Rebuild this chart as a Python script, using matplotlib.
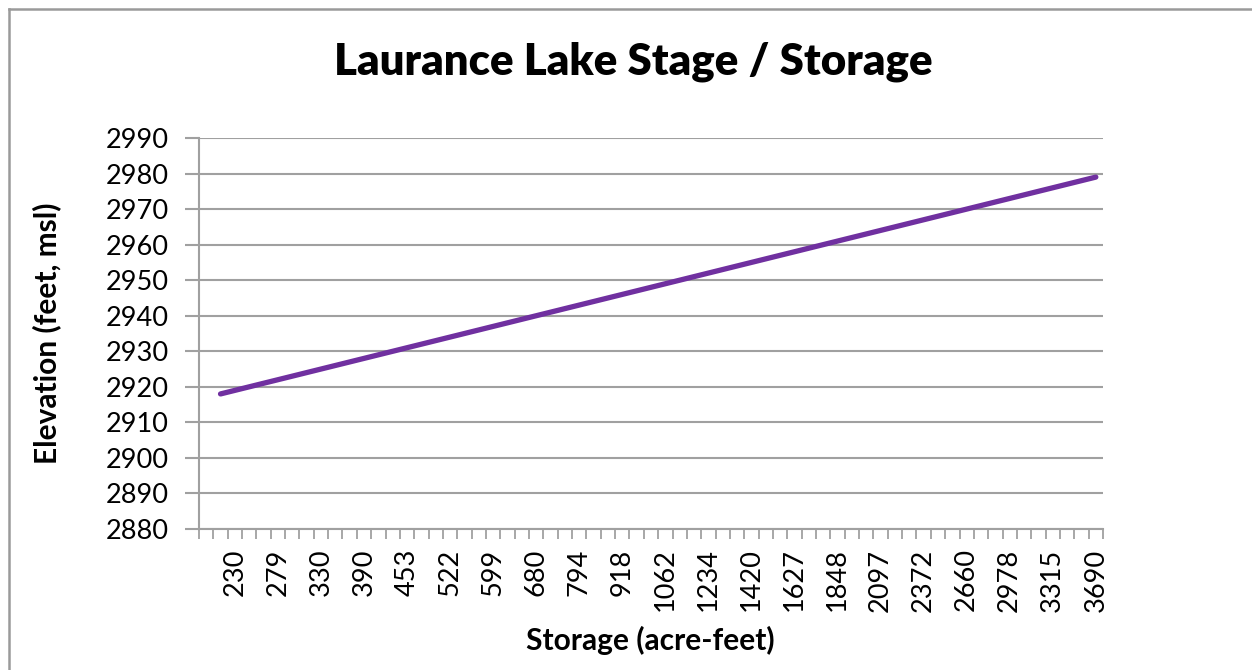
import matplotlib
matplotlib.use("Agg")
import matplotlib.pyplot as plt
import numpy as np
from matplotlib.lines import Line2D

# Storage categories (acre-feet); every third one is labelled on the axis
storage = [200, 215, 230, 246, 262, 279, 296, 313, 330, 350, 370, 390, 411, 432,
           453, 476, 499, 522, 548, 573, 599, 626, 653, 680, 718, 756, 794, 835,
           876, 918, 966, 1014, 1062, 1119, 1176, 1234, 1296, 1358, 1420, 1489,
           1558, 1627, 1701, 1775, 1848, 1931, 2014, 2097, 2189, 2281, 2372, 2468,
           2564, 2660, 2766, 2872, 2978, 3090, 3202, 3315, 3440, 3565, 3690]
# Elevation (feet, msl); first category has no value
elevation = [None, 2918, 2919, 2920, 2921, 2922, 2923, 2924, 2925, 2926, 2927,
             2928, 2929, 2930, 2931, 2932, 2933, 2934, 2935, 2936, 2937, 2938,
             2939, 2940, 2941, 2942, 2943, 2944, 2945, 2946, 2947, 2948, 2949,
             2950, 2951, 2952, 2953, 2954, 2955, 2956, 2957, 2958, 2959, 2960,
             2961, 2962, 2963, 2964, 2965, 2966, 2967, 2968, 2969, 2970, 2971,
             2972, 2973, 2974, 2975, 2976, 2977, 2978, 2979]
y_ticks = list(range(2880, 2991, 10))

title = "Laurance Lake Stage / Storage"
xlabel = "Storage (acre-feet)"
ylabel = "Elevation (feet, msl)"

FONT = "Lato"
W, H = 1252, 670
fig = plt.figure(figsize=(W / 100, H / 100), dpi=100)
fig.patch.set_facecolor("white")

# chart area border (left and top visible)
fig.add_artist(Line2D([8.5 / W, 8.5 / W], [0, 1 - 8.5 / H], transform=fig.transFigure,
                      color="#9a9a9a", lw=1.8))
fig.add_artist(Line2D([8.5 / W, 1], [1 - 8.5 / H, 1 - 8.5 / H], transform=fig.transFigure,
                      color="#9a9a9a", lw=1.8))

left, right, top, bottom = 199, 1103, 138, 529
ax = fig.add_axes([left / W, 1 - bottom / H, (right - left) / W, (bottom - top) / H])

n = len(storage)
x = np.arange(n)
yv = np.array([np.nan if v is None else v for v in elevation], dtype=float)
ax.plot(x, yv, color="#7030A0", lw=3.8, solid_capstyle="round", zorder=3)

ax.set_xlim(-0.5, n - 0.5)
ax.set_ylim(2880, 2990)
ax.set_yticks(y_ticks)
ax.set_yticklabels([str(v) for v in y_ticks], fontfamily=FONT, fontsize=19.5)
ax.yaxis.grid(True, color="#a0a0a0", lw=1.5)
ax.set_axisbelow(True)

lab_idx = [i for i in range(n) if i % 3 == 2]
ax.set_xticks(lab_idx)
ax.set_xticklabels([str(storage[i]) for i in lab_idx], rotation=90,
                   fontfamily=FONT, fontsize=19.5, va="top", ha="center")
ax.set_xticks(np.arange(-0.5, n, 1.0), minor=True)
ax.tick_params(axis="x", which="major", length=0, pad=14)
ax.tick_params(axis="x", which="minor", length=7, width=1.3, color="#a0a0a0", direction="out")
ax.tick_params(axis="y", length=10, width=1.5, color="#a0a0a0", pad=12)

for s in ["top", "right"]:
    ax.spines[s].set_visible(False)
for s in ["left", "bottom"]:
    ax.spines[s].set_color("#a0a0a0")
    ax.spines[s].set_linewidth(1.5)

fig.text(633 / W, 1 - 62 / H, title, ha="center", va="center",
         fontfamily=FONT, fontweight="heavy", fontsize=31.5)
fig.text(650 / W, 1 - 640 / H, xlabel, ha="center", va="center",
         fontfamily=FONT, fontweight="bold", fontsize=21.5)
fig.text(47 / W, 1 - 333 / H, ylabel, ha="center", va="center", rotation=90,
         fontfamily=FONT, fontweight="bold", fontsize=21.5)

fig.savefig("out.png", dpi=100, facecolor="white")
